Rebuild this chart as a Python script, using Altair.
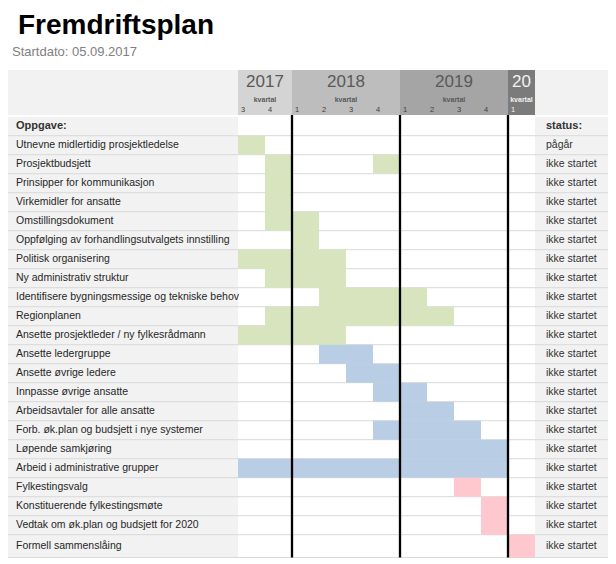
import altair as alt
import pandas as pd

# ---------------- data ----------------
title_text = "Fremdriftsplan"
subtitle_text = "Startdato: 05.09.2017"

tasks = [
    "Utnevne midlertidig prosjektledelse",
    "Prosjektbudsjett",
    "Prinsipper for kommunikasjon",
    "Virkemidler for ansatte",
    "Omstillingsdokument",
    "Oppfølging av forhandlingsutvalgets innstilling",
    "Politisk organisering",
    "Ny administrativ struktur",
    "Identifisere bygningsmessige og tekniske behov",
    "Regionplanen",
    "Ansette prosjektleder / ny fylkesrådmann",
    "Ansette ledergruppe",
    "Ansette øvrige ledere",
    "Innpasse øvrige ansatte",
    "Arbeidsavtaler for alle ansatte",
    "Forb. øk.plan og budsjett i nye systemer",
    "Løpende samkjøring",
    "Arbeid i administrative grupper",
    "Fylkestingsvalg",
    "Konstituerende fylkestingsmøte",
    "Vedtak om øk.plan og budsjett for 2020",
    "Formell sammenslåing",
]
statuses = ["pågår"] + ["ikke startet"] * 21

# segments: task row (1-based), start quarter index, end quarter index (exclusive), group
# quarter index 0 = 2017 Q3 ... 10 = 2020 Q1
seg_row = [1, 2, 2, 3, 4, 5, 6, 7, 8, 9, 10, 11,
           12, 13, 14, 15, 16, 17, 18,
           19, 20, 21, 22]
seg_start = [0, 1, 5, 1, 1, 1, 2, 0, 1, 3, 1, 0,
             3, 4, 5, 6, 5, 6, 0,
             8, 9, 9, 10]
seg_end = [1, 2, 6, 2, 2, 3, 3, 4, 4, 7, 8, 4,
           5, 6, 7, 8, 9, 10, 10,
           9, 10, 10, 11]
seg_group = ["A"] * 12 + ["B"] * 7 + ["C"] * 4

years = ["2017", "2018", "2019", "20"]
year_start = [0, 2, 6, 10]
year_end = [2, 6, 10, 11]
year_fill = ["#d4d4d4", "#bdbdbd", "#a5a5a5", "#7b7b7b"]
year_text_color = ["#595959", "#595959", "#595959", "#f2f2f2"]

quarter_labels = ["3", "4", "1", "2", "3", "4", "1", "2", "3", "4", "1"]
quarter_text_color = ["#404040"] * 10 + ["#f2f2f2"]

year_lines = [2, 6, 10]

# ---------------- layout constants ----------------
W, H = 600, 552
QW = 27.0                # px per quarter
LABEL_W = 230.0          # px of label column
ROW_H = 19.0
TABLE_TOP = 108.7        # px of first (header) row top
XMIN = -LABEL_W / QW
XMAX = (W - LABEL_W) / QW
YMIN = -TABLE_TOP / ROW_H
YMAX = (H - TABLE_TOP) / ROW_H
N = len(tasks)
LAST_BOTTOM = N + 1.2
HEAD_TOP = (62 - TABLE_TOP) / ROW_H
HEAD_BOT = (107 - TABLE_TOP) / ROW_H
STATUS_X = 11.0


def py(px):
    """page-pixel y -> row units"""
    return (px - 8 - TABLE_TOP) / ROW_H


xs = alt.Scale(domain=[XMIN, XMAX], nice=False, zero=False)
ys = alt.Scale(domain=[YMIN, YMAX], nice=False, zero=False, reverse=True)

FONT = "Liberation Sans"

# ---------------- tables ----------------
bg_df = pd.DataFrame({
    "x0": [XMIN, STATUS_X, XMIN, STATUS_X],
    "x1": [0.0, XMAX, 0.0, XMAX],
    "y0": [0.0, 0.0, HEAD_TOP, HEAD_TOP],
    "y1": [LAST_BOTTOM, LAST_BOTTOM, HEAD_BOT, HEAD_BOT],
})

seg_df = pd.DataFrame({"r": seg_row, "s": seg_start, "e": seg_end, "g": seg_group})
seg_df["r"] = seg_df["r"].astype(float)
seg_df["rb"] = seg_df["r"] + 1.0
seg_df.loc[seg_df["r"] == N, "rb"] = LAST_BOTTOM

year_df = pd.DataFrame({"year": years, "s": year_start, "e": year_end,
                        "fill": year_fill, "tc": year_text_color})
year_df["mid"] = (year_df["s"] + year_df["e"]) / 2
year_df["kv"] = "kvartal"
year_df["yt"] = HEAD_TOP
year_df["yb"] = HEAD_BOT
year_df["ylab"] = py(82)
year_df["ykv"] = py(99.5)

q_df = pd.DataFrame({"lab": quarter_labels, "q": list(range(len(quarter_labels))),
                     "tc": quarter_text_color})
q_df["y"] = py(109.5)

task_df = pd.DataFrame({"name": tasks, "status": statuses,
                        "r": [float(i) for i in range(1, N + 1)]})
task_df["yc"] = task_df["r"] + 0.5
task_df.loc[task_df["r"] == N, "yc"] = N + 0.6
task_df["xl"] = XMIN
task_df["xs"] = STATUS_X

hlines_df = pd.DataFrame({"y": [float(i) for i in range(1, N + 1)] + [LAST_BOTTOM]})
hlines_df["x0"] = XMIN
hlines_df["x1"] = XMAX

vlines_df = pd.DataFrame({"x": [float(v) for v in year_lines]})
vlines_df["y0"] = HEAD_BOT
vlines_df["y1"] = LAST_BOTTOM

head_df = pd.DataFrame({"t": ["Oppgave:", "status:"], "x": [XMIN, STATUS_X],
                        "y": [0.5, 0.5]})

# ---------------- layers ----------------
bg = alt.Chart(bg_df).mark_rect(color="#f2f2f2").encode(
    x=alt.X("x0:Q", scale=xs, axis=None), x2="x1:Q",
    y=alt.Y("y0:Q", scale=ys, axis=None), y2="y1:Q")

hlines = alt.Chart(hlines_df).mark_rule(color="#d9d9d9", strokeWidth=1).encode(
    x=alt.X("x0:Q", scale=xs, axis=None), x2="x1:Q",
    y=alt.Y("y:Q", scale=ys, axis=None))

bars = alt.Chart(seg_df).mark_rect().encode(
    x=alt.X("s:Q", scale=xs, axis=None), x2="e:Q",
    y=alt.Y("r:Q", scale=ys, axis=None), y2="rb:Q",
    color=alt.Color("g:N", scale=alt.Scale(domain=["A", "B", "C"],
                                           range=["#d7e4bd", "#b9cde5", "#ffc7ce"]),
                    legend=None))

vlines = alt.Chart(vlines_df).mark_rule(color="#000000", strokeWidth=2.3).encode(
    x=alt.X("x:Q", scale=xs, axis=None),
    y=alt.Y("y0:Q", scale=ys, axis=None), y2="y1:Q")

year_rects = alt.Chart(year_df).mark_rect().encode(
    x=alt.X("s:Q", scale=xs, axis=None), x2="e:Q",
    y=alt.Y("yt:Q", scale=ys, axis=None), y2="yb:Q",
    color=alt.Color("fill:N", scale=None))

year_text = alt.Chart(year_df).mark_text(font=FONT, fontSize=17, baseline="middle",
                                         align="center").encode(
    x=alt.X("mid:Q", scale=xs, axis=None),
    y=alt.Y("ylab:Q", scale=ys, axis=None),
    text="year:N", color=alt.Color("tc:N", scale=None))

kv_text = alt.Chart(year_df).mark_text(font=FONT, fontSize=7, fontWeight="bold",
                                       baseline="middle", align="center").encode(
    x=alt.X("mid:Q", scale=xs, axis=None),
    y=alt.Y("ykv:Q", scale=ys, axis=None),
    text="kv:N", color=alt.Color("tc:N", scale=None))

q_text = alt.Chart(q_df).mark_text(font=FONT, fontSize=7.5, baseline="middle",
                                   align="left", dx=3).encode(
    x=alt.X("q:Q", scale=xs, axis=None),
    y=alt.Y("y:Q", scale=ys, axis=None),
    text="lab:N", color=alt.Color("tc:N", scale=None))

task_text = alt.Chart(task_df).mark_text(font=FONT, fontSize=10.5, align="left",
                                         baseline="middle", color="#262626", dx=8).encode(
    x=alt.X("xl:Q", scale=xs, axis=None),
    y=alt.Y("yc:Q", scale=ys, axis=None),
    text="name:N")

status_text = alt.Chart(task_df).mark_text(font=FONT, fontSize=10.5, align="left",
                                           baseline="middle", color="#333333", dx=11).encode(
    x=alt.X("xs:Q", scale=xs, axis=None),
    y=alt.Y("yc:Q", scale=ys, axis=None),
    text="status:N")

oppg_text = alt.Chart(head_df.iloc[[0]]).mark_text(
    font=FONT, fontSize=11, fontWeight="bold", align="left", baseline="middle",
    color="#333333", dx=8).encode(
    x=alt.X("x:Q", scale=xs, axis=None), y=alt.Y("y:Q", scale=ys, axis=None),
    text="t:N")
stat_head = alt.Chart(head_df.iloc[[1]]).mark_text(
    font=FONT, fontSize=11, fontWeight="bold", align="left", baseline="middle",
    color="#333333", dx=11).encode(
    x=alt.X("x:Q", scale=xs, axis=None), y=alt.Y("y:Q", scale=ys, axis=None),
    text="t:N")

title = alt.Chart(pd.DataFrame({"t": [title_text]})).mark_text(
    font=FONT, fontSize=28, fontWeight="bold", align="left", baseline="alphabetic",
    color="#000000").encode(x=alt.value(10), y=alt.value(26), text="t:N")
subtitle = alt.Chart(pd.DataFrame({"t": [subtitle_text]})).mark_text(
    font=FONT, fontSize=13, align="left", baseline="alphabetic",
    color="#808080").encode(x=alt.value(4), y=alt.value(48), text="t:N")

chart = alt.layer(
    bg, hlines, bars, vlines, year_rects, year_text, kv_text, q_text,
    task_text, status_text, oppg_text, stat_head, title, subtitle
).properties(
    width=W, height=H, padding=0, autosize=alt.AutoSizeParams(type="none"),
    background="white"
).configure_view(stroke=None)

chart.save("out.html", embed_options={"renderer": "svg", "actions": False})
